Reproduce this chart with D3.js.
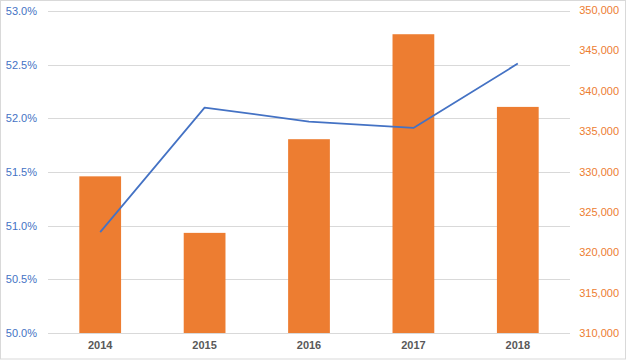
<!DOCTYPE html>
<html>
<head>
<meta charset="utf-8">
<script src="https://cdn.jsdelivr.net/npm/d3@7"></script>
<style>
  body { margin: 0; background: #fff; }
  text { font-family: "Liberation Sans", Arial, sans-serif; }
</style>
</head>
<body>
<div id="chart"></div>
<script>
// years along the bottom
var years = ['2014', '2015', '2016', '2017', '2018'];
// orange bars, right axis
var barValues = [329400, 322400, 334000, 347000, 338000];
// blue line, left axis (percent)
var lineValues = [50.94, 52.10, 51.97, 51.91, 52.51];
// tick labels
var leftTicks = [50.0, 50.5, 51.0, 51.5, 52.0, 52.5, 53.0];
var rightTicks = [310000, 315000, 320000, 325000, 330000, 335000, 340000, 345000, 350000];

var width = 627, height = 360;
var plot = { left: 48, right: 570, top: 11, bottom: 333 };

var svg = d3.select('#chart').append('svg')
  .attr('width', width)
  .attr('height', height);

// chart border
svg.append('rect')
  .attr('x', 0.5).attr('y', 0.5)
  .attr('width', width - 2).attr('height', height - 1.5)
  .attr('fill', '#fff')
  .attr('stroke', '#d9d9d9');

var x = d3.scaleBand()
  .domain(years)
  .range([plot.left, plot.right])
  .paddingInner(0.6)
  .paddingOuter(0.3);

var yLeft = d3.scaleLinear().domain([50, 53]).range([plot.bottom, plot.top]);
var yRight = d3.scaleLinear().domain([310000, 350000]).range([plot.bottom, plot.top - 1]);

// gridlines from the left axis
svg.append('g')
  .selectAll('line')
  .data(leftTicks)
  .join('line')
  .attr('x1', plot.left)
  .attr('x2', plot.right)
  .attr('y1', function (d) { return Math.round(yLeft(d)) + 0.5; })
  .attr('y2', function (d) { return Math.round(yLeft(d)) + 0.5; })
  .attr('stroke', '#d9d9d9')
  .attr('stroke-width', 1);

// bars
svg.append('g')
  .selectAll('rect')
  .data(barValues)
  .join('rect')
  .attr('x', function (d, i) { return x(years[i]); })
  .attr('y', function (d) { return yRight(d); })
  .attr('width', x.bandwidth())
  .attr('height', function (d) { return plot.bottom - yRight(d); })
  .attr('fill', '#ed7d31');

// line
var line = d3.line()
  .x(function (d, i) { return x(years[i]) + x.bandwidth() / 2; })
  .y(function (d) { return yLeft(d); });

svg.append('path')
  .datum(lineValues)
  .attr('d', line)
  .attr('fill', 'none')
  .attr('stroke', '#4472c4')
  .attr('stroke-width', 1.75)
  .attr('stroke-linejoin', 'round');

// left axis
var leftAxis = svg.append('g')
  .attr('transform', 'translate(' + (plot.left - 11) + ',0)')
  .call(d3.axisLeft(yLeft)
    .tickValues(leftTicks)
    .tickSize(0)
    .tickPadding(0)
    .tickFormat(function (d) { return d.toFixed(1) + '%'; }));
leftAxis.select('.domain').remove();
leftAxis.selectAll('text')
  .attr('fill', '#4472c4')
  .style('font-size', '11px');

// right axis
var rightAxis = svg.append('g')
  .attr('transform', 'translate(' + (plot.right + 49) + ',0)')
  .call(d3.axisLeft(yRight)
    .tickValues(rightTicks)
    .tickSize(0)
    .tickPadding(0)
    .tickFormat(d3.format(',')));
rightAxis.select('.domain').remove();
rightAxis.selectAll('text')
  .attr('fill', '#ed7d31')
  .style('font-size', '11px');

// bottom axis
var bottomAxis = svg.append('g')
  .attr('transform', 'translate(0,' + plot.bottom + ')')
  .call(d3.axisBottom(x).tickSize(0).tickPadding(8));
bottomAxis.select('.domain')
  .attr('d', 'M' + plot.left + ',0.5H' + plot.right)
  .attr('stroke', '#d9d9d9');
bottomAxis.selectAll('text')
  .attr('fill', '#595959')
  .style('font-size', '11px')
  .style('font-weight', 'bold');
</script>
</body>
</html>
